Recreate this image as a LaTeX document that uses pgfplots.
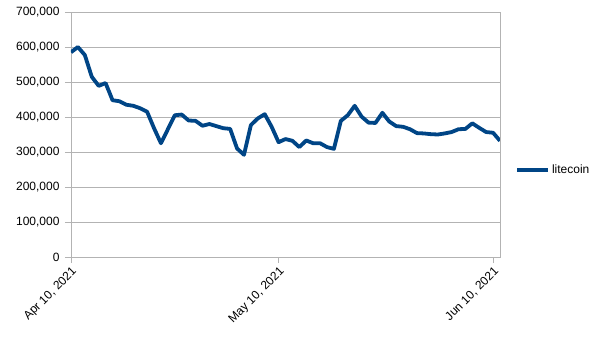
\documentclass[border=0pt]{standalone}
\usepackage{pgfplots}
\pgfplotsset{compat=1.18}
\usepackage{fontspec}
\setmainfont{Liberation Sans}
\definecolor{series}{HTML}{004586}
\definecolor{gridc}{HTML}{B3B3B3}
\begin{document}
\begin{tikzpicture}
\path[use as bounding box] (-71pt,-83pt) rectangle (534pt,257pt);
\begin{axis}[
  at={(0pt,0pt)}, anchor=south west,
  scale only axis, width=429pt, height=245pt,
  xmin=0, xmax=62, ymin=0, ymax=700000,
  xtick={0,30,61},
  xticklabels={{Apr 10, 2021},{May 10, 2021},{Jun 10, 2021}},
  xticklabel style={rotate=45, anchor=north east, font=\fontsize{12}{14}\selectfont, inner sep=2pt},
  ytick={0,100000,...,700000},
  yticklabel style={font=\fontsize{12}{14}\selectfont, xshift=-2pt},
  scaled y ticks=false,
  /pgf/number format/.cd, fixed, 1000 sep={,}, assume math mode=true, /pgfplots/.cd,
  ymajorgrids, grid style={gridc, line width=0.8pt},
  axis line style={gridc, line width=0.8pt},
  tick style={gridc, line width=0.8pt},
  tick align=outside, major tick length=6pt,
  xtick pos=bottom, ytick pos=left,
  legend style={draw=none, at={(1.035,0.355)}, anchor=west, font=\fontsize{12}{14}\selectfont, inner sep=0pt},
  legend image code/.code={\draw[#1] (0pt,0pt) -- (31pt,0pt);},
  legend cell align=left,
]
\addplot[series, line width=3.8pt, line join=round] coordinates {
(0,585000) (1,600000) (2,577000) (3,515000) (4,489000) (5,497000)
(6,448000) (7,445000) (8,435000) (9,432000) (10,425000) (11,415000)
(12,368000) (13,325000) (14,365000) (15,405000) (16,407000) (17,390000)
(18,389000) (19,375000) (20,380000) (21,374000) (22,368000) (23,366000)
(24,310000) (25,292000) (26,377000) (27,396000) (28,408000) (29,372000)
(30,328000) (31,337000) (32,332000) (33,314000) (34,333000) (35,325000)
(36,325000) (37,314000) (38,309000) (39,389000) (40,405000) (41,432000)
(42,401000) (43,384000) (44,383000) (45,412000) (46,387000) (47,374000)
(48,372000) (49,365000) (50,354000) (51,353000) (52,351000) (53,350000)
(54,353000) (55,357000) (56,365000) (57,366000) (58,382000) (59,369000)
(60,357000) (61,355000) (62,332000)
};
\addlegendentry{litecoin}
\end{axis}
\end{tikzpicture}
\end{document}
